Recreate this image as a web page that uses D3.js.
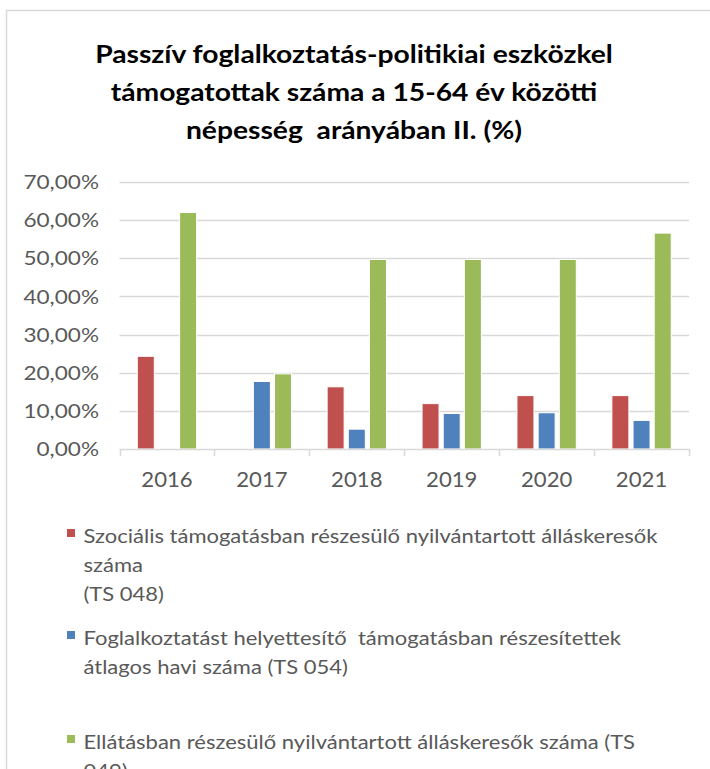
<!DOCTYPE html>
<html>
<head>
<meta charset="utf-8">
<script src="https://cdn.jsdelivr.net/npm/d3@7"></script>
<style>
  html, body { margin: 0; padding: 0; background: #fff; }
  svg { display: block; }
  text { font-family: Lato, "Open Sans", sans-serif; }
</style>
</head>
<body>
<svg id="chart" width="710" height="769"></svg>
<script>
// ---- data ----
const categories = ["2016", "2017", "2018", "2019", "2020", "2021"];
const seriesNames = [
  "Szociális támogatásban részesülő nyilvántartott álláskeresők száma (TS 048)",
  "Foglalkoztatást helyettesítő  támogatásban részesítettek átlagos havi száma (TS 054)",
  "Ellátásban részesülő nyilvántartott álláskeresők száma (TS 049)"
];
const socialis = [24.3, null, 16.3, 11.9, 14.0, 14.0];
const foglalkoztatast = [null, 17.7, 5.2, 9.3, 9.5, 7.5];
const ellatasban = [62.0, 19.7, 49.7, 49.7, 49.7, 56.6];
const yTicks = [0, 10, 20, 30, 40, 50, 60, 70];
const titleLines = [
  "Passzív foglalkoztatás-politikiai eszközkel",
  "támogatottak száma a 15-64 év közötti",
  "népesség  arányában II. (%)"
];
const legendLines = [
  ["Szociális támogatásban részesülő nyilvántartott álláskeresők", "száma", "(TS 048)"],
  ["Foglalkoztatást helyettesítő  támogatásban részesítettek", "átlagos havi száma (TS 054)"],
  ["Ellátásban részesülő nyilvántartott álláskeresők száma (TS", "049)"]
];
const colors = ["#C0504D", "#4F81BD", "#9BBB59"];

// ---- layout ----
const svg = d3.select("#chart");
const plot = { left: 119.5, right: 689, top: 182, bottom: 449 };

// chart border
svg.append("rect")
  .attr("x", 6.5).attr("y", 10.5)
  .attr("width", 900).attr("height", 900)
  .attr("fill", "#fff").attr("stroke", "#D9D9D9").attr("stroke-width", 1.5);

// title
svg.append("g").selectAll("text").data(titleLines).join("text")
  .attr("x", 0).attr("y", 0)
  .attr("transform", (d, i) => `translate(354,${62.5 + i * 38}) scale(1.13,1)`)
  .attr("text-anchor", "middle")
  .attr("font-size", 25).attr("font-weight", "bold").attr("fill", "#000")
  .style("white-space", "pre")
  .text(d => d);

const x = d3.scaleBand().domain(categories).range([plot.left, plot.right]).padding(0);
const y = d3.scaleLinear().domain([0, 70]).range([plot.bottom, plot.top]);

// gridlines
svg.append("g").selectAll("line").data(yTicks.filter(t => t > 0)).join("line")
  .attr("x1", plot.left).attr("x2", plot.right)
  .attr("y1", d => Math.round(y(d)) + 0.5).attr("y2", d => Math.round(y(d)) + 0.5)
  .attr("stroke", "#D9D9D9").attr("stroke-width", 1.5);

// y axis labels
const yAxis = d3.axisLeft(y).tickValues(yTicks).tickSize(0).tickPadding(0)
  .tickFormat(d => d3.format(".2f")(d).replace(".", ",") + "%");
const gy = svg.append("g").attr("transform", `translate(99,0)`).call(yAxis);
gy.select(".domain").remove();
gy.selectAll("text").attr("font-size", 18.5).attr("fill", "#595959")
  .attr("font-family", "Lato, 'Open Sans', sans-serif")
  .attr("x", 0).attr("dy", "0.36em")
  .attr("transform", "scale(1.22,1)");

// bars
const series = [socialis, foglalkoztatast, ellatasban];
const bw = x.bandwidth();
const barW = bw * 0.179;
const step = bw * 0.223;
const offset0 = (bw - (2 * step + barW)) / 2;
series.forEach((vals, si) => {
  svg.append("g").selectAll("rect")
    .data(categories.map((c, i) => ({ c, v: vals[i] })).filter(d => d.v != null))
    .join("rect")
    .attr("x", d => x(d.c) + offset0 + si * step)
    .attr("width", barW)
    .attr("y", d => y(d.v))
    .attr("height", d => y(0) - y(d.v))
    .attr("fill", colors[si])
    .attr("stroke", "#fff").attr("stroke-width", 1);
});

// x axis
const xAxis = d3.axisBottom(x).tickSize(0).tickPadding(0);
const gx = svg.append("g").attr("transform", `translate(0,${plot.bottom})`).call(xAxis);
gx.select(".domain").remove();
gx.selectAll("text").attr("font-size", 20.5).attr("fill", "#595959")
  .attr("font-family", "Lato, 'Open Sans', sans-serif")
  .attr("dy", 0).attr("y", 38)
  .attr("transform", "scale(1.08,1)");
svg.append("line").attr("x1", plot.left).attr("x2", plot.right)
  .attr("y1", plot.bottom + 0.5).attr("y2", plot.bottom + 0.5)
  .attr("stroke", "#D9D9D9").attr("stroke-width", 1.5);
svg.append("g").selectAll("line").data(categories.concat(["end"])).join("line")
  .attr("x1", (d, i) => Math.round(plot.left + i * bw) + 0.5)
  .attr("x2", (d, i) => Math.round(plot.left + i * bw) + 0.5)
  .attr("y1", plot.bottom).attr("y2", plot.bottom + 7)
  .attr("stroke", "#D9D9D9").attr("stroke-width", 1.5);

// legend
const legendStartY = [543, 645, 749];
const lineStep = 29;
legendLines.forEach((lines, i) => {
  const g = svg.append("g");
  g.append("rect").attr("x", 67).attr("y", legendStartY[i] - 14)
    .attr("width", 8).attr("height", 8).attr("fill", colors[i]);
  g.selectAll("text").data(lines).join("text")
    .attr("x", 0).attr("y", 0)
    .attr("transform", (d, j) => `translate(83.5,${legendStartY[i] + j * lineStep}) scale(1.10,1)`)
    .attr("font-size", 20).attr("fill", "#595959")
    .style("white-space", "pre")
    .text(d => d);
});
</script>
</body>
</html>
